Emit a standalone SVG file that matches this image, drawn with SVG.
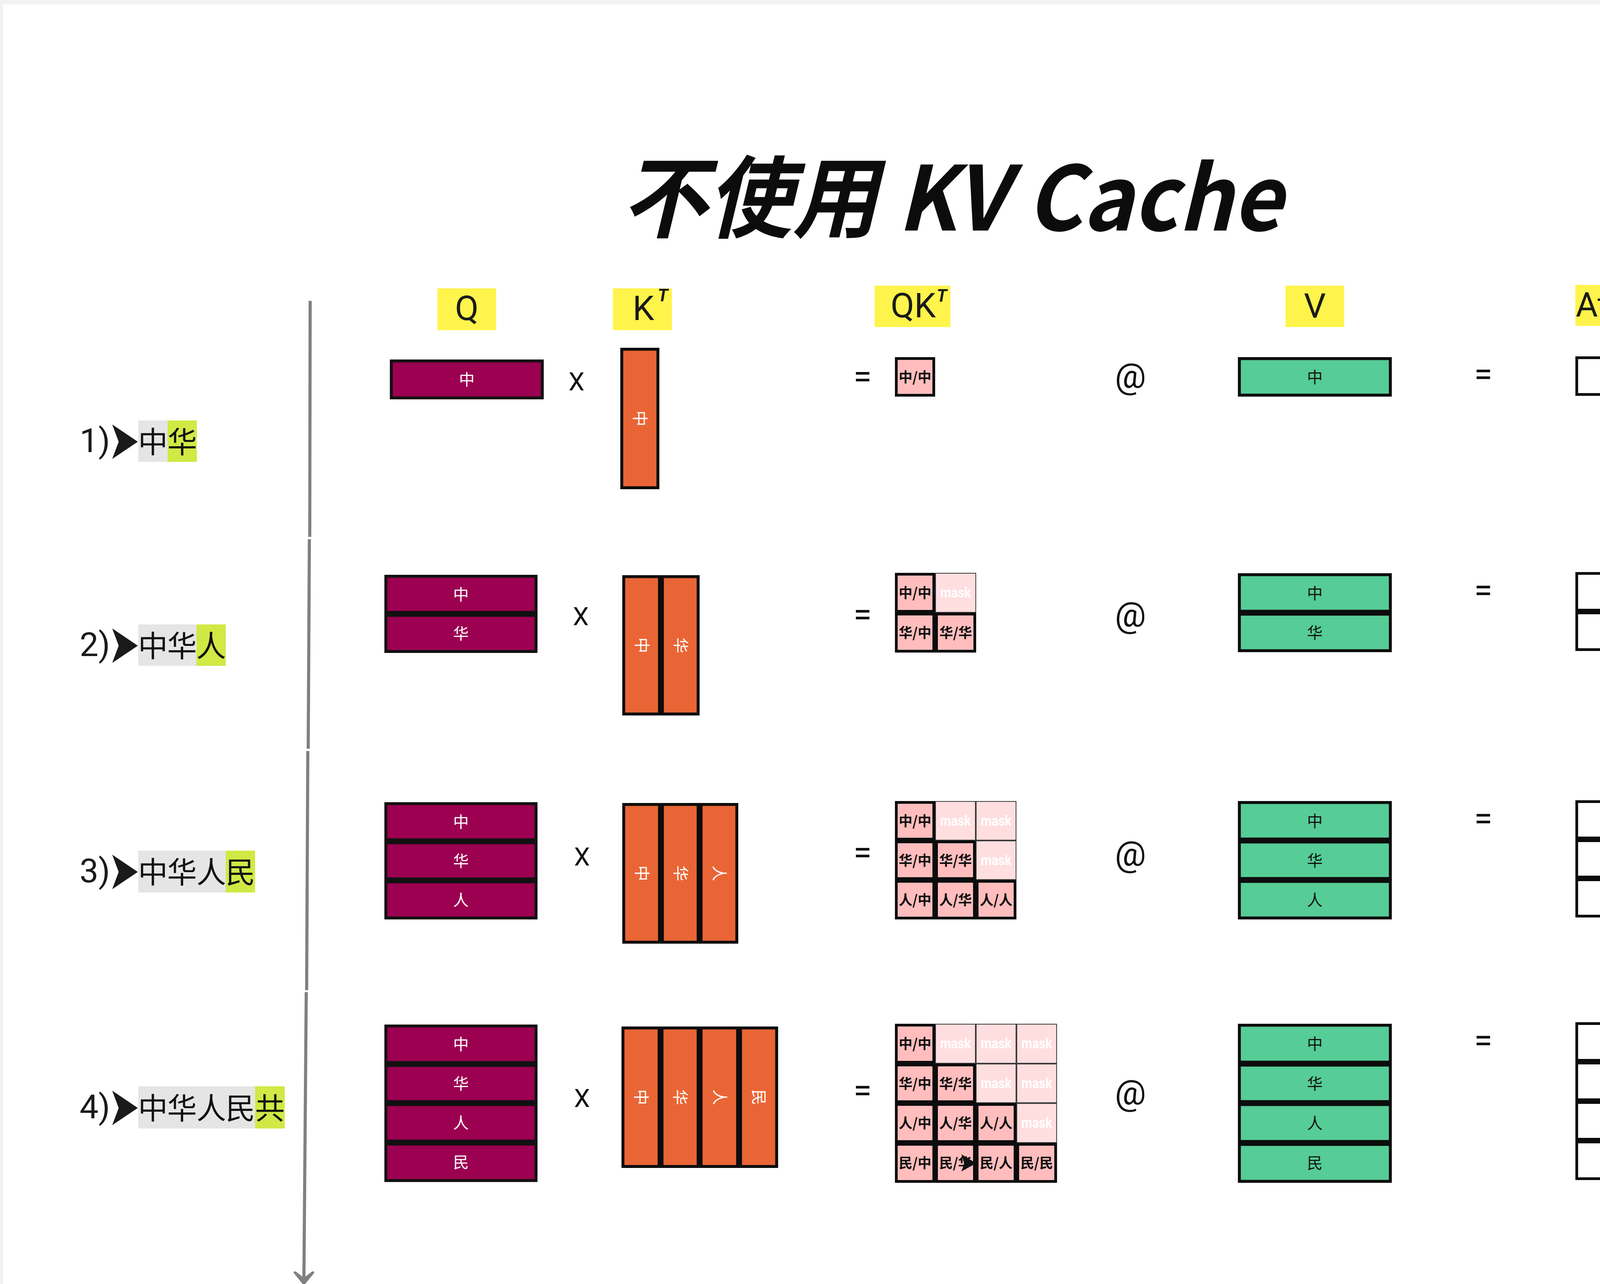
<svg xmlns="http://www.w3.org/2000/svg" width="4868" height="3286" viewBox="0 0 4868 3286">
<style>
.bgq{fill:#9c0051;stroke:#111;stroke-width:7.5}
.bgk{fill:#ea6535;stroke:#0c0c0c;stroke-width:7.5}
.bgv{fill:#56cc96;stroke:#0c0c0c;stroke-width:7.5}
.tok{fill:#fff;stroke:#0c0c0c;stroke-width:7}
.cell{fill:#ffbdbd;stroke:#0c0c0c;stroke-width:7}
.mask{fill:#ffdee0;stroke:#3a3a3a;stroke-width:2}
.ct{font-family:"Noto Sans CJK SC",sans-serif;font-weight:700;font-size:35px;fill:#0c0c0c;text-anchor:middle}
.mt{font-family:Roboto,"Noto Sans",sans-serif;font-weight:700;font-size:36px;fill:#fff;text-anchor:middle}
.wt{font-family:"Noto Sans CJK SC",sans-serif;font-size:40px;fill:#fff;text-anchor:middle}
.bt{font-family:"Noto Sans CJK SC",sans-serif;font-size:40px;fill:#111;text-anchor:middle}
.tt{font-family:"Noto Sans",sans-serif;font-size:39px;fill:#111;text-anchor:middle;white-space:pre}
.hd{font-family:Roboto,"Noto Sans",sans-serif;font-size:88px;fill:#1a1a1a}
.sup{font-family:Roboto,"Noto Sans",sans-serif;font-size:44px;font-style:italic;font-weight:700;fill:#1a1a1a;text-anchor:middle}
.op{font-family:Roboto,"Noto Sans",sans-serif;fill:#111;text-anchor:middle}
.lab{font-family:"Noto Sans CJK SC",sans-serif;font-size:76px;fill:#111;text-anchor:middle}
.num{font-family:Roboto,"Noto Sans",sans-serif;font-size:86px;fill:#1a1a1a;text-anchor:end}
.arr{font-family:"DejaVu Sans",sans-serif;font-size:88px;fill:#1a1a1a}
.yel{fill:#fff44b}
.gry{fill:#e5e5e5}
.lim{fill:#d1e945}
.tl{stroke:#808080;stroke-width:8;fill:none}
</style>
<rect x="0" y="0" width="4868" height="3286" fill="#f2f2f2"/>
<rect x="8" y="11" width="4860" height="3275" fill="#ffffff"/>

<g id="title">
<text x="1591" y="590" font-family="'Noto Sans CJK SC','Noto Sans',sans-serif" font-size="228" font-weight="700" font-style="italic" fill="#0c0c0c" textLength="1691" lengthAdjust="spacingAndGlyphs">不使用 KV Cache</text>
</g>

<g id="headers">
<g id="hdr-q"><rect class="yel" x="1120" y="738" width="150" height="107"/><text class="hd" x="1195" y="819" text-anchor="middle">Q</text></g>
<g id="hdr-kt"><rect class="yel" x="1569" y="738" width="151" height="107"/><text class="hd" x="1647" y="819" text-anchor="middle">K</text><text class="sup" x="1697" y="771">T</text></g>
<g id="hdr-qkt"><rect class="yel" x="2239" y="731" width="194" height="106"/><text class="hd" x="2280" y="812">QK</text><text class="sup" x="2411" y="772">T</text></g>
<g id="hdr-v"><rect class="yel" x="3291" y="731" width="150" height="106"/><text class="hd" x="3366" y="813" text-anchor="middle">V</text></g>
<g id="hdr-att"><rect class="yel" x="4033" y="729" width="362" height="105"/><text class="hd" x="4034" y="810" textLength="352" lengthAdjust="spacingAndGlyphs">Attention</text></g>
</g>

<g id="connectors">
<line class="tl" x1="794" y1="770" x2="793" y2="1374"/>
<line class="tl" x1="792" y1="1380" x2="789" y2="1916"/>
<line class="tl" x1="788" y1="1922" x2="785" y2="2534"/>
<line class="tl" x1="784" y1="2539" x2="778" y2="3272"/>
<path d="M752,3258 Q750,3252 757,3254 L778,3270 L799,3254 Q806,3252 804,3258 L778,3290 Z" fill="#808080"/>
</g>

<g id="step1">
<rect class="gry" x="354" y="1076" width="75" height="106"/><rect class="lim" x="429" y="1076" width="75" height="106"/>
<text class="num" x="282" y="1157">1)</text><text class="arr" x="-6" y="29" transform="translate(283,1128) scale(1.1,1.58)">➤</text>
<text class="lab" x="391.5" y="1159">中</text><text class="lab" x="466.5" y="1159">华</text>
</g>
<g id="step2">
<rect class="gry" x="354" y="1598" width="149" height="106"/><rect class="lim" x="503" y="1598" width="75" height="106"/>
<text class="num" x="282" y="1679">2)</text><text class="arr" x="-6" y="29" transform="translate(283,1650) scale(1.1,1.58)">➤</text>
<text class="lab" x="391.5" y="1681">中</text><text class="lab" x="466" y="1681">华</text><text class="lab" x="540.5" y="1681">人</text>
</g>
<g id="step3">
<rect class="gry" x="354" y="2177" width="224" height="107"/><rect class="lim" x="578" y="2177" width="75" height="107"/>
<text class="num" x="282" y="2258">3)</text><text class="arr" x="-6" y="29" transform="translate(283,2229) scale(1.1,1.58)">➤</text>
<text class="lab" x="391.5" y="2260">中</text><text class="lab" x="466" y="2260">华</text><text class="lab" x="541" y="2260">人</text><text class="lab" x="615.5" y="2260">民</text>
</g>
<g id="step4">
<rect class="gry" x="354" y="2780" width="299" height="108"/><rect class="lim" x="653" y="2780" width="76" height="108"/>
<text class="num" x="282" y="2862">4)</text><text class="arr" x="-6" y="29" transform="translate(283,2833) scale(1.1,1.58)">➤</text>
<text class="lab" x="391.5" y="2864">中</text><text class="lab" x="466" y="2864">华</text><text class="lab" x="541" y="2864">人</text><text class="lab" x="615.5" y="2864">民</text><text class="lab" x="691" y="2864">共</text>
</g>

<g id="q1"><rect class="bgq" x="1001.75" y="923.75" width="386.5" height="94.5"/><text class="wt" x="1195" y="986">中</text></g>
<g id="q2">
<rect class="bgq" x="987.75" y="1474.75" width="384.5" height="92.5"/><text class="wt" x="1180" y="1536">中</text>
<rect class="bgq" x="987.75" y="1574.75" width="384.5" height="92.5"/><text class="wt" x="1180" y="1636">华</text>
</g>
<g id="q3">
<rect class="bgq" x="987.75" y="2056.75" width="384.5" height="92.5"/><text class="wt" x="1180" y="2118">中</text>
<rect class="bgq" x="987.75" y="2156.75" width="384.5" height="92.5"/><text class="wt" x="1180" y="2218">华</text>
<rect class="bgq" x="987.75" y="2256.75" width="384.5" height="92.5"/><text class="wt" x="1180" y="2318">人</text>
</g>
<g id="q4">
<rect class="bgq" x="987.75" y="2625.75" width="384.5" height="93.5"/><text class="wt" x="1180" y="2687">中</text>
<rect class="bgq" x="987.75" y="2726.75" width="384.5" height="92.5"/><text class="wt" x="1180" y="2788">华</text>
<rect class="bgq" x="987.75" y="2826.75" width="384.5" height="93.5"/><text class="wt" x="1180" y="2888">人</text>
<rect class="bgq" x="987.75" y="2927.75" width="384.5" height="93.5"/><text class="wt" x="1180" y="2989">民</text>
</g>

<g id="k1"><rect class="bgk" x="1591.75" y="893.75" width="92.5" height="354.5"/><text class="wt" x="1638" y="1085" transform="rotate(90 1638 1071)">中</text></g>
<g id="k2">
<rect class="bgk" x="1596.75" y="1475.75" width="91.5" height="351.5"/><text class="wt" x="1642.5" y="1665.5" transform="rotate(90 1642.5 1651.5)">中</text>
<rect class="bgk" x="1695.75" y="1475.75" width="91.5" height="351.5"/><text class="wt" x="1741.5" y="1665.5" transform="rotate(90 1741.5 1651.5)">华</text>
</g>
<g id="k3">
<rect class="bgk" x="1596.75" y="2058.75" width="91.5" height="352.5"/><text class="wt" x="1642.5" y="2249" transform="rotate(90 1642.5 2235)">中</text>
<rect class="bgk" x="1695.75" y="2058.75" width="91.5" height="352.5"/><text class="wt" x="1741.5" y="2249" transform="rotate(90 1741.5 2235)">华</text>
<rect class="bgk" x="1794.75" y="2058.75" width="91.5" height="352.5"/><text class="wt" x="1840.5" y="2249" transform="rotate(90 1840.5 2235)">人</text>
</g>
<g id="k4">
<rect class="bgk" x="1594.75" y="2630.75" width="92.5" height="354.5"/><text class="wt" x="1641" y="2822" transform="rotate(90 1641 2808)">中</text>
<rect class="bgk" x="1694.75" y="2630.75" width="92.5" height="354.5"/><text class="wt" x="1741" y="2822" transform="rotate(90 1741 2808)">华</text>
<rect class="bgk" x="1794.75" y="2630.75" width="93.5" height="354.5"/><text class="wt" x="1841.5" y="2822" transform="rotate(90 1841.5 2808)">人</text>
<rect class="bgk" x="1895.75" y="2630.75" width="92.5" height="354.5"/><text class="wt" x="1942" y="2822" transform="rotate(90 1942 2808)">民</text>
</g>

<g id="ops">
<text class="op" x="1476" y="999" font-size="65">X</text>
<text class="op" x="1487" y="1600" font-size="65">X</text>
<text class="op" x="1490" y="2215" font-size="65">X</text>
<text class="op" x="1490" y="2833" font-size="65">X</text>
<text class="op" x="2208" y="993" font-size="85">=</text>
<text class="op" x="2208" y="1602" font-size="85">=</text>
<text class="op" x="2208" y="2211" font-size="85">=</text>
<text class="op" x="2208" y="2820" font-size="85">=</text>
<text class="op" x="2894" y="992" font-size="89">@</text>
<text class="op" x="2894" y="1603" font-size="89">@</text>
<text class="op" x="2894" y="2215" font-size="89">@</text>
<text class="op" x="2894" y="2826" font-size="89">@</text>
<text class="op" x="3797" y="987" font-size="85">=</text>
<text class="op" x="3797" y="1540" font-size="85">=</text>
<text class="op" x="3797" y="2124" font-size="85">=</text>
<text class="op" x="3797" y="2692" font-size="85">=</text>
</g>

<g id="qk1">
<rect class="cell" x="2294.5" y="917.5" width="96" height="94"/><text class="ct" x="2342.5" y="977.5">中/中</text>
</g>
<g id="qk2">
<rect class="cell" x="2294.5" y="1469.5" width="96" height="95"/><text class="ct" x="2342.5" y="1530">中/中</text>
<rect class="mask" x="2395" y="1467" width="103" height="100"/><text class="mt" x="2446.5" y="1529" textLength="79" lengthAdjust="spacingAndGlyphs">mask</text>
<rect class="cell" x="2294.5" y="1571.5" width="96" height="95"/><text class="ct" x="2342.5" y="1632">华/中</text>
<rect class="cell" x="2397.5" y="1571.5" width="98" height="95"/><text class="ct" x="2446.5" y="1632">华/华</text>
</g>
<g id="qk3">
<rect class="cell" x="2294.5" y="2053.5" width="96" height="94"/><text class="ct" x="2342.5" y="2113.5">中/中</text>
<rect class="mask" x="2395" y="2051" width="102" height="99"/><text class="mt" x="2446" y="2112.5" textLength="79" lengthAdjust="spacingAndGlyphs">mask</text>
<rect class="mask" x="2499" y="2051" width="102" height="99"/><text class="mt" x="2550" y="2112.5" textLength="79" lengthAdjust="spacingAndGlyphs">mask</text>
<rect class="cell" x="2294.5" y="2154.5" width="96" height="94"/><text class="ct" x="2342.5" y="2214.5">华/中</text>
<rect class="cell" x="2397.5" y="2154.5" width="97" height="94"/><text class="ct" x="2446" y="2214.5">华/华</text>
<rect class="mask" x="2499" y="2152" width="102" height="99"/><text class="mt" x="2550" y="2213.5" textLength="79" lengthAdjust="spacingAndGlyphs">mask</text>
<rect class="cell" x="2294.5" y="2255.5" width="96" height="94"/><text class="ct" x="2342.5" y="2315.5">人/中</text>
<rect class="cell" x="2397.5" y="2255.5" width="97" height="94"/><text class="ct" x="2446" y="2315.5">人/华</text>
<rect class="cell" x="2501.5" y="2255.5" width="97" height="94"/><text class="ct" x="2550" y="2315.5">人/人</text>
</g>
<g id="qk4">
<rect class="cell" x="2294.5" y="2623.5" width="96" height="95"/><text class="ct" x="2342.5" y="2684">中/中</text>
<rect class="mask" x="2395" y="2621" width="102" height="100"/><text class="mt" x="2446" y="2683" textLength="79" lengthAdjust="spacingAndGlyphs">mask</text>
<rect class="mask" x="2499" y="2621" width="102" height="100"/><text class="mt" x="2550" y="2683" textLength="79" lengthAdjust="spacingAndGlyphs">mask</text>
<rect class="mask" x="2603" y="2621" width="102" height="100"/><text class="mt" x="2654" y="2683" textLength="79" lengthAdjust="spacingAndGlyphs">mask</text>
<rect class="cell" x="2294.5" y="2725.5" width="96" height="94"/><text class="ct" x="2342.5" y="2785.5">华/中</text>
<rect class="cell" x="2397.5" y="2725.5" width="97" height="94"/><text class="ct" x="2446" y="2785.5">华/华</text>
<rect class="mask" x="2499" y="2723" width="102" height="99"/><text class="mt" x="2550" y="2784.5" textLength="79" lengthAdjust="spacingAndGlyphs">mask</text>
<rect class="mask" x="2603" y="2723" width="102" height="99"/><text class="mt" x="2654" y="2784.5" textLength="79" lengthAdjust="spacingAndGlyphs">mask</text>
<rect class="cell" x="2294.5" y="2826.5" width="96" height="95"/><text class="ct" x="2342.5" y="2887">人/中</text>
<rect class="cell" x="2397.5" y="2826.5" width="97" height="95"/><text class="ct" x="2446" y="2887">人/华</text>
<rect class="cell" x="2501.5" y="2826.5" width="97" height="95"/><text class="ct" x="2550" y="2887">人/人</text>
<rect class="mask" x="2603" y="2824" width="102" height="100"/><text class="mt" x="2654" y="2886" textLength="79" lengthAdjust="spacingAndGlyphs">mask</text>
<rect class="cell" x="2294.5" y="2928.5" width="96" height="95"/><text class="ct" x="2342.5" y="2989">民/中</text>
<rect class="cell" x="2397.5" y="2928.5" width="97" height="95"/><text class="ct" x="2446" y="2989">民/华</text>
<rect class="cell" x="2501.5" y="2928.5" width="97" height="95"/><text class="ct" x="2550" y="2989">民/人</text>
<rect class="cell" x="2605.5" y="2928.5" width="97" height="95"/><text class="ct" x="2654" y="2989">民/民</text>
<path d="M2461,2954 L2499,2977 L2461,2998 Q2466,2986 2468,2977 Q2466,2966 2461,2954 Z" fill="#111"/>
</g>

<g id="v1"><rect class="bgv" x="3172.75" y="917.75" width="386.5" height="93.5"/><text class="bt" x="3366" y="979.5">中</text></g>
<g id="v2">
<rect class="bgv" x="3172.75" y="1470.75" width="386.5" height="93.5"/><text class="bt" x="3366" y="1532.5">中</text>
<rect class="bgv" x="3172.75" y="1571.75" width="386.5" height="93.5"/><text class="bt" x="3366" y="1633.5">华</text>
</g>
<g id="v3">
<rect class="bgv" x="3172.75" y="2053.75" width="386.5" height="93.5"/><text class="bt" x="3366" y="2115.5">中</text>
<rect class="bgv" x="3172.75" y="2154.75" width="386.5" height="93.5"/><text class="bt" x="3366" y="2216.5">华</text>
<rect class="bgv" x="3172.75" y="2255.75" width="386.5" height="93.5"/><text class="bt" x="3366" y="2317.5">人</text>
</g>
<g id="v4">
<rect class="bgv" x="3172.75" y="2623.75" width="386.5" height="94.5"/><text class="bt" x="3366" y="2686">中</text>
<rect class="bgv" x="3172.75" y="2725.75" width="386.5" height="93.5"/><text class="bt" x="3366" y="2787.5">华</text>
<rect class="bgv" x="3172.75" y="2826.75" width="386.5" height="94.5"/><text class="bt" x="3366" y="2889">人</text>
<rect class="bgv" x="3172.75" y="2928.75" width="386.5" height="94.5"/><text class="bt" x="3366" y="2991">民</text>
</g>

<g id="att1"><rect class="tok" x="4036.5" y="915.5" width="384.5" height="94"/><text class="tt" x="4228.5" y="977" xml:space="preserve">Token  1</text></g>
<g id="att2">
<rect class="tok" x="4036.5" y="1467.5" width="384.5" height="94"/><text class="tt" x="4228.5" y="1529.5" xml:space="preserve">Token  1</text>
<rect class="tok" x="4036.5" y="1568.5" width="384.5" height="94"/><text class="tt" x="4228.5" y="1630.5" xml:space="preserve">Token  2</text>
</g>
<g id="att3">
<rect class="tok" x="4036.5" y="2051.5" width="384.5" height="93"/><text class="tt" x="4228.5" y="2113" xml:space="preserve">Token  1</text>
<rect class="tok" x="4036.5" y="2151.5" width="384.5" height="93"/><text class="tt" x="4228.5" y="2213" xml:space="preserve">Token  2</text>
<rect class="tok" x="4036.5" y="2251.5" width="384.5" height="93"/><text class="tt" x="4228.5" y="2313" xml:space="preserve">Token  3</text>
</g>
<g id="att4">
<rect class="tok" x="4036.5" y="2619.5" width="384.5" height="94"/><text class="tt" x="4228.5" y="2681.5" xml:space="preserve">Token  1</text>
<rect class="tok" x="4036.5" y="2720.5" width="384.5" height="94"/><text class="tt" x="4228.5" y="2782.5" xml:space="preserve">Token  2</text>
<rect class="tok" x="4036.5" y="2821.5" width="384.5" height="94"/><text class="tt" x="4228.5" y="2883.5" xml:space="preserve">Token  3</text>
<rect class="tok" x="4036.5" y="2922.5" width="384.5" height="94"/><text class="tt" x="4228.5" y="2984.5" xml:space="preserve">Token  4</text>
</g>
</svg>
